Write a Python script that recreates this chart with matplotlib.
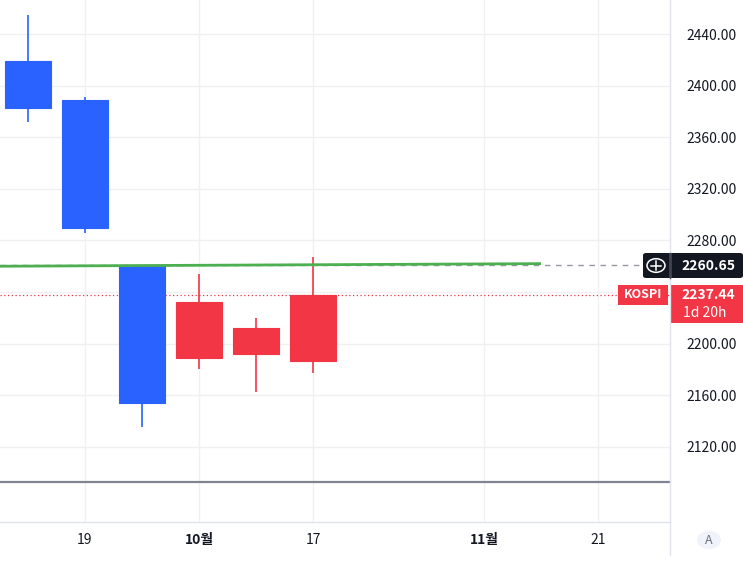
import matplotlib
matplotlib.use("Agg")
import matplotlib.pyplot as plt
from matplotlib.patches import Rectangle, FancyBboxPatch, Circle

plt.rcParams['font.family'] = ['Noto Sans CJK KR', 'DejaVu Sans']

# weekly KOSPI candles (index 0 = week of Sep 12)
week = [0, 1, 2, 3, 4, 5]
opens = [2419, 2389, 2261, 2189, 2192, 2186.5]
highs = [2455, 2391, 2261, 2254, 2220, 2267]
lows = [2372, 2286, 2135, 2180.5, 2162.5, 2177.5]
closes = [2383, 2290, 2154, 2232.5, 2212, 2237.44]

xtick_pos = [1, 3, 5, 8, 10]
xtick_labels = ["19", "10월", "17", "11월", "21"]
ytick_vals = [2120, 2160, 2200, 2240, 2280, 2320, 2360, 2400, 2440]

trend_x = [-0.5, 9.0]
trend_y = [2260.0, 2262.0]
cross_price = 2260.65
last_price = closes[-1]

up_col = "#F23645"
down_col = "#2962FF"
grid_col = "#F0F0F3"
text_col = "#131722"

W, H = 743, 563
fig = plt.figure(figsize=(W / 100, H / 100), dpi=100)
ax = fig.add_axes([0, 1 - 481 / H, 670 / W, 481 / H])
ax2 = fig.add_axes([0, 1 - 522 / H, 670 / W, 39 / H])

xmin, xmax = -28 / 57, (670 - 28) / 57
ax.set_xlim(xmin, xmax)
ax.set_ylim(2093.5, 2466.4)
ax2.set_xlim(xmin, xmax)

for a in (ax, ax2):
    for s in a.spines.values():
        s.set_visible(False)
    a.set_xticks(xtick_pos)
    for xp in xtick_pos:
        a.axvline(xp, color=grid_col, lw=1, zorder=0)

for yv in ytick_vals:
    ax.axhline(yv, color=grid_col, lw=1, zorder=0)

ax.set_xticklabels([])
ax.tick_params(axis="x", length=0)
ax.yaxis.tick_right()
ax.set_yticks([v for v in ytick_vals if v != 2240])
ax.set_yticklabels([f"{v:.2f}" for v in ytick_vals if v != 2240])
ax.tick_params(axis="y", length=0, pad=12, labelsize=10, labelcolor=text_col)

ax2.set_yticks([])
ax2.tick_params(axis="x", length=0, pad=8, labelsize=10, labelcolor=text_col)
ax2.set_xticklabels(xtick_labels)
for lab in ax2.get_xticklabels():
    if "월" in lab.get_text():
        lab.set_fontweight("bold")

# candles
bw = 0.79
for i, o, h, l, c in zip(week, opens, highs, lows, closes):
    col = up_col if c >= o else down_col
    ax.vlines(i, l, h, color=col, lw=1.2, zorder=3)
    ax.add_patch(Rectangle((i - bw / 2, min(o, c)), bw, abs(c - o),
                           facecolor=col, edgecolor=col, lw=0.8, zorder=4))

# crosshair and last price lines
ax.plot([xmin, (643 - 28) / 57], [cross_price, cross_price], color="#9598A1",
        lw=1, ls=(0, (4, 4)), zorder=5)
ax.axhline(last_price, color=up_col, lw=0.9, ls=(0, (1, 2)), zorder=2)
ax.plot(trend_x, trend_y, color="#4CAF50", lw=2, zorder=6, solid_capstyle="butt")

# separators
fig.add_artist(plt.Line2D([0, 670 / W], [1 - 482 / H, 1 - 482 / H], color="#808390", lw=1.6))
fig.add_artist(plt.Line2D([0, 670 / W], [1 - 522 / H, 1 - 522 / H], color="#E0E3EB", lw=1))
fig.add_artist(plt.Line2D([670 / W, 670 / W], [1 - 555 / H, 1], color="#E0E3EB", lw=1))


def fx(px):
    return px / W


def fy(py):
    return 1 - py / H


# crosshair price label
fig.add_artist(FancyBboxPatch((fx(643), fy(278)), fx(743) - fx(643), fy(253) - fy(278),
                              boxstyle="round,pad=0,rounding_size=0.004",
                              facecolor=text_col, edgecolor="none"))
fig.add_artist(Circle((fx(656), fy(265.5)), 9 / W, transform=fig.transFigure,
                      facecolor="none", edgecolor="white", lw=1.1))
fig.add_artist(plt.Line2D([fx(651), fx(661)], [fy(265.5), fy(265.5)], color="white", lw=1.1))
fig.add_artist(plt.Line2D([fx(656), fx(656)], [fy(260.5), fy(270.5)], color="white", lw=1.1))
fig.add_artist(plt.Line2D([fx(670), fx(670)], [fy(278), fy(253)], color="#434651", lw=1))
fig.text(fx(708), fy(265.5), f"{cross_price:.2f}", color="white", ha="center", va="center",
         fontsize=10, fontweight="bold")

# last price labels
fig.add_artist(Rectangle((fx(618), fy(305)), fx(668) - fx(618), fy(285) - fy(305),
                         transform=fig.transFigure, facecolor=up_col, edgecolor="none"))
fig.text(fx(643), fy(295), "KOSPI", color="white", ha="center", va="center",
         fontsize=9, fontweight="bold")
fig.add_artist(Rectangle((fx(671), fy(323)), fx(743) - fx(671), fy(285) - fy(323),
                         transform=fig.transFigure, facecolor=up_col, edgecolor="none"))
fig.text(fx(708), fy(295), f"{last_price:.2f}", color="white", ha="center", va="center",
         fontsize=10, fontweight="bold")
fig.text(fx(705), fy(313), "1d 20h", color="white", ha="center", va="center", fontsize=10)

# auto-scale button
fig.add_artist(Circle((fx(709), fy(540)), 12 / W, transform=fig.transFigure,
                      facecolor="#F0F3FA", edgecolor="none"))
fig.text(fx(709), fy(540), "A", color="#6A6D78", ha="center", va="center", fontsize=9)

fig.savefig("out.png", dpi=100, facecolor="white")
